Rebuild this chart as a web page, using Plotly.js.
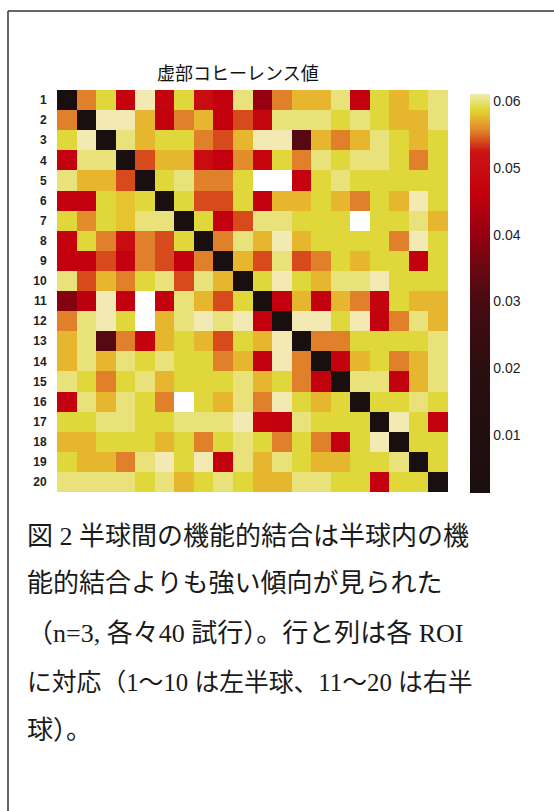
<!DOCTYPE html>
<html>
<head>
<meta charset="utf-8">
<script src="https://cdn.plot.ly/plotly-3.0.1.min.js"></script>
<style>
  html, body { margin: 0; padding: 0; background: #fff; }
  #chart { width: 554px; height: 811px; }
</style>
</head>
<body>
<div id="chart"></div>
<script>
// ROI indices (rows / columns)
const roiLabels = ['1','2','3','4','5','6','7','8','9','10','11','12','13','14','15','16','17','18','19','20'];
const roiIndex = [1,2,3,4,5,6,7,8,9,10,11,12,13,14,15,16,17,18,19,20];

// imaginary coherence values, one array per row (null = blank cell)
const row01 = [0, .0555, .059, .047, .0611, .047, .059, .050, .046, .060, .040, .0555, .0575, .0575, .060, .046, .059, .0575, .059, .060];
const row02 = [.0555, 0, .0611, .0611, .0575, .046, .0555, .0575, .046, .054, .048, .060, .060, .060, .059, .060, .059, .0575, .0575, .060];
const row03 = [.059, .0611, 0, .060, .0575, .059, .059, .0555, .054, .0575, .0611, .0611, .032, .0575, .0555, .0575, .060, .059, .0575, .059];
const row04 = [.046, .060, .060, 0, .054, .0575, .0575, .050, .046, .056, .048, .059, .0555, .060, .059, .060, .060, .059, .0555, .059];
const row05 = [.060, .0575, .0575, .054, 0, .059, .060, .0555, .0555, .059, null, null, .047, .059, .060, .059, .059, .059, .059, .059];
const row06 = [.046, .046, .059, .058, .059, 0, .059, .054, .054, .059, .046, .0575, .0575, .059, .0575, .0555, .059, .0575, .0611, .059];
const row07 = [.059, .056, .059, .058, .060, .060, 0, .059, .046, .054, .060, .060, .059, .059, .059, null, .059, .059, .060, .0575];
const row08 = [.047, .059, .0555, .050, .0555, .054, .059, 0, .0555, .060, .0575, .0611, .0575, .059, .059, .059, .059, .0555, .0611, .059];
const row09 = [.046, .046, .054, .046, .0555, .054, .046, .0555, 0, .0575, .054, .060, .054, .0555, .059, .0575, .059, .059, .046, .059];
const row10 = [.060, .054, .0575, .0555, .059, .060, .054, .060, .0575, 0, .059, .0611, .059, .0575, .060, .060, .0611, .059, .059, .059];
const row11 = [.038, .045, .0611, .046, null, .046, .060, .0575, .054, .059, 0, .046, .0575, .046, .0575, .0555, .047, .059, .0575, .0575];
const row12 = [.0555, .060, .0611, .059, null, .0575, .060, .0611, .060, .0611, .046, 0, .0611, .0611, .059, .0611, .046, .0555, .060, .0575];
const row13 = [.0575, .060, .032, .0555, .047, .0575, .059, .0575, .054, .059, .0575, .0611, 0, .0555, .0555, .059, .059, .059, .059, .060];
const row14 = [.0575, .060, .0575, .060, .059, .060, .059, .059, .0555, .0575, .046, .0611, .0555, 0, .047, .0575, .059, .0555, .0575, .060];
const row15 = [.060, .059, .0555, .059, .060, .0575, .059, .059, .059, .060, .0575, .059, .0555, .046, 0, .060, .060, .046, .0575, .060];
const row16 = [.046, .060, .0575, .060, .059, .0555, null, .059, .0575, .060, .0555, .0611, .059, .0575, .059, 0, .059, .059, .060, .059];
const row17 = [.059, .059, .060, .060, .059, .059, .060, .060, .060, .0611, .047, .046, .060, .059, .059, .059, 0, .0611, .059, .046];
const row18 = [.0575, .0575, .059, .059, .059, .0575, .059, .0555, .059, .060, .059, .0555, .059, .0555, .046, .059, .0611, 0, .059, .059];
const row19 = [.059, .0575, .0575, .0555, .060, .0611, .059, .0611, .046, .060, .0575, .060, .059, .0575, .0575, .059, .059, .060, 0, .059];
const row20 = [.060, .060, .060, .060, .059, .060, .0575, .059, .060, .059, .0575, .0575, .060, .060, .059, .059, .046, .059, .059, 0];

const zRows = [row01,row02,row03,row04,row05,row06,row07,row08,row09,row10,
               row11,row12,row13,row14,row15,row16,row17,row18,row19,row20];

// colour bar ticks
const cbTickVals = [0.01, 0.02, 0.03, 0.04, 0.05, 0.06];
const cbTickText = ['0.01','0.02','0.03','0.04','0.05','0.06'];

// texts
const titleText = '虚部コヒーレンス値';
const captionLines = [
  '図 2 半球間の機能的結合は半球内の機',
  '能的結合よりも強い傾向が見られた',
  '（n=3, 各々40 試行）。行と列は各 ROI',
  'に対応（1～10 は左半球、11～20 は右半',
  '球）。'
];

// ---- styling / layout ----
const zMin = 0.0013, zMax = 0.0611;
const stops = [
  [0.0013, '#1a0f0f'], [0.020, '#2a0e10'], [0.030, '#480a12'], [0.035, '#6a0812'],
  [0.040, '#960010'], [0.046, '#c2000e'], [0.0525, '#cc1412'], [0.054, '#d64a1c'],
  [0.0555, '#e0802a'], [0.057, '#e6a82c'], [0.058, '#e4c430'], [0.059, '#e0d83a'],
  [0.060, '#e9e27a'], [0.0611, '#f2eab2']
];
const colorscale = stops.map(s => [(s[0] - zMin) / (zMax - zMin), s[1]]);

const W = 554, H = 811;
const L = 57, R = 448, T = 90, B = 492;
const pw = R - L, ph = B - T;
const px = v => (v - L) / pw;
const py = v => (B - v) / ph;

const trace = {
  type: 'heatmap',
  x: roiIndex,
  y: roiIndex,
  z: zRows,
  zmin: zMin,
  zmax: zMax,
  colorscale: colorscale,
  hoverongaps: false,
  colorbar: {
    x: px(470), xanchor: 'left', xpad: 0,
    y: py(293.5), yanchor: 'middle', ypad: 0,
    len: 399 / ph, lenmode: 'fraction',
    thickness: 20, thicknessmode: 'pixels',
    outlinewidth: 0,
    tickvals: cbTickVals, ticktext: cbTickText,
    ticks: '',
    tickfont: { family: 'Liberation Sans, Arial, sans-serif', size: 14, color: '#222' }
  }
};

const captionY = [536, 583, 633, 682, 730];
const captionSize = [26, 26, 26, 24.8, 26];
const annotations = [
  { text: titleText, xref: 'paper', yref: 'paper', x: px(238), y: py(72),
    xanchor: 'center', yanchor: 'middle', showarrow: false,
    font: { family: 'Noto Sans CJK JP, sans-serif', size: 18, color: '#111' } }
].concat(captionLines.map((t, i) => ({
  text: t, xref: 'paper', yref: 'paper', x: px(25), y: py(captionY[i]),
  xanchor: 'left', yanchor: 'middle', showarrow: false,
  font: { family: 'Liberation Serif, Noto Sans CJK JP, serif', size: captionSize[i], color: '#1a1a1a' }
})));

const frame = { color: '#333', width: 1.5 };
const shapes = [
  { type: 'line', xref: 'paper', yref: 'paper', x0: px(8), x1: px(W + 5), y0: py(11), y1: py(11), line: frame },
  { type: 'line', xref: 'paper', yref: 'paper', x0: px(8), x1: px(8), y0: py(11), y1: py(H + 5), line: frame }
];

const layout = {
  width: W, height: H,
  margin: { l: L, r: W - R, t: T, b: H - B, pad: 0 },
  paper_bgcolor: '#fff', plot_bgcolor: '#fff',
  xaxis: { range: [0.5, 20.5], showticklabels: false, showgrid: false, zeroline: false,
           ticks: '', showline: false, fixedrange: true },
  yaxis: { range: [20.5, 0.5], tickvals: roiIndex, ticktext: roiLabels,
           showgrid: false, zeroline: false, showline: false,
           ticks: 'outside', ticklen: 7, tickcolor: 'rgba(0,0,0,0)',
           tickfont: { family: 'Liberation Sans Narrow, Arial Narrow, sans-serif', size: 12, color: '#222', weight: 'bold' },
           fixedrange: true },
  annotations: annotations,
  shapes: shapes,
  showlegend: false
};

Plotly.newPlot('chart', [trace], layout, { displayModeBar: false, staticPlot: true });
</script>
</body>
</html>
